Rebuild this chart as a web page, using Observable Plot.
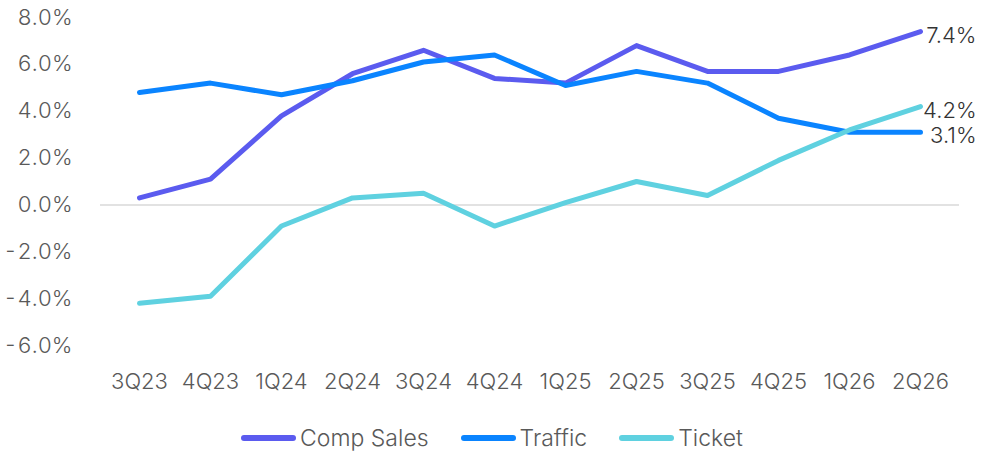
<!DOCTYPE html>
<html><head><meta charset="utf-8">
<script src="https://cdn.jsdelivr.net/npm/d3@7"></script>
<script src="https://cdn.jsdelivr.net/npm/@observablehq/plot@0.6"></script>
<style>
body{margin:0;background:#fff;font-family:Inter,"Noto Sans",sans-serif;}
#legend{display:flex;justify-content:center;height:55px;align-items:center;padding-top:20px;box-sizing:border-box;font-size:23px;font-weight:300;color:#595959;padding-left:0px}
.item{display:flex;align-items:center;margin-right:32px}
.item:last-child{margin-right:0}
.sw{width:55px;height:6px;border-radius:3px;margin-right:4px}
</style></head>
<body>
<div id="chart"></div>
<div id="legend"></div>
<script>
const quarters = ["3Q23","4Q23","1Q24","2Q24","3Q24","4Q24","1Q25","2Q25","3Q25","4Q25","1Q26","2Q26"];
const compSales = [0.3,1.1,3.8,5.6,6.6,5.4,5.2,6.8,5.7,5.7,6.4,7.4];
const traffic   = [4.8,5.2,4.7,5.3,6.1,6.4,5.1,5.7,5.2,3.7,3.1,3.1];
const ticket    = [-4.2,-3.9,-0.9,0.3,0.5,-0.9,0.1,1.0,0.4,1.9,3.2,4.2];
const seriesNames = ["Comp Sales","Traffic","Ticket"];
const colors = ["#5B5BEF","#0A84FF","#5FD1E0"];
const yTicks = [-6,-4,-2,0,2,4,6,8];

const rows = [];
[compSales,traffic,ticket].forEach((vals,si)=>vals.forEach((v,i)=>rows.push({q:quarters[i],s:seriesNames[si],v})));
const last = rows.filter(d=>d.q===quarters[quarters.length-1]);

const chart = Plot.plot({
  width:984, height:400,
  marginLeft:100, marginRight:25, marginTop:17, marginBottom:55,
  style:{fontFamily:"Inter, 'Noto Sans', sans-serif", fontSize:"22px", fontWeight:300, color:"#595959"},
  x:{type:"point", domain:quarters, padding:0.5, label:null},
  y:{domain:[-6,8], label:null},
  color:{domain:seriesNames, range:colors},
  marks:[
    Plot.ruleY([0],{stroke:"#d9d9d9", strokeWidth:1.5}),
    Plot.axisY({ticks:yTicks, tickSize:0, tickPadding:28, tickFormat:d=>d.toFixed(1)+"%", fontSize:22, fill:"#595959"}),
    Plot.axisX({tickSize:0, tickPadding:28, fontSize:22, fill:"#595959"}),
    Plot.line(rows,{x:"q", y:"v", z:"s", stroke:"s", strokeWidth:5, strokeLinecap:"round", strokeLinejoin:"round"}),
    Plot.text(last,{x:"q", y:"v", text:d=>d.v.toFixed(1)+"%", dx:56, dy:4, textAnchor:"end", fontSize:22, fontWeight:300, fill:"#333333"})
  ]
});
document.getElementById("chart").append(chart);
const leg = document.getElementById("legend");
seriesNames.forEach((n,i)=>{
  const it=document.createElement("div");it.className="item";
  it.innerHTML=`<div class="sw" style="background:${colors[i]}"></div><span>${n}</span>`;
  leg.append(it);
});
</script>
</body></html>
